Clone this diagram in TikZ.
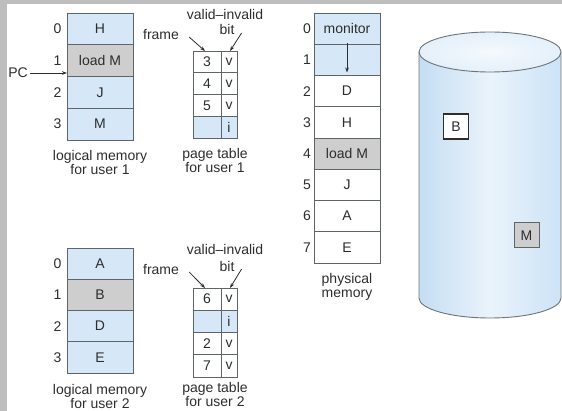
\documentclass[tikz,border=0pt]{standalone}
\usepackage{fontspec}
\setmainfont{Liberation Sans}
\usetikzlibrary{arrows.meta}
\definecolor{memblue}{RGB}{214,232,247}
\definecolor{memgray}{RGB}{206,206,206}
\definecolor{cellline}{RGB}{95,100,105}
\definecolor{txt}{RGB}{45,45,45}
\definecolor{band}{RGB}{190,190,190}
\definecolor{cylL}{RGB}{196,222,243}
\definecolor{cylM}{RGB}{234,243,251}
\definecolor{cylR}{RGB}{204,227,246}
\definecolor{cyltop}{RGB}{228,240,250}
\definecolor{cylline}{RGB}{110,115,120}
\begin{document}
\begin{tikzpicture}[x=1pt,y=-1pt, font=\fontsize{14}{14}\selectfont, text=txt,
  cell/.style={draw=cellline, line width=0.9pt, inner sep=0pt, outer sep=0pt, anchor=north west},
  lrow/.style={cell, minimum width=66pt, minimum height=31.75pt},
  prow/.style={cell, minimum width=66pt, minimum height=31.25pt},
  fcol/.style={cell, minimum width=28pt},
  vcol/.style={cell, minimum width=16pt},
  num/.style={inner sep=0pt},
  lbl/.style={inner sep=0pt, align=center},
  arr/.style={draw=txt, line width=0.8pt, -{Stealth[length=5pt,width=3.6pt]}},
  diskbox/.style={inner sep=0pt, minimum width=25pt, minimum height=25pt}]
\useasboundingbox (0,0) rectangle (562,411);
% grey frame bands
\fill[band] (0,0) rectangle (562,4);
\fill[band] (0,0) rectangle (7,411);

% ---------- logical memory user 1
\node[lrow, fill=memblue] (la0) at (67,13) {H};
\node[lrow, fill=memgray] (la1) at (67,44.75) {load M};
\node[lrow, fill=memblue] (la2) at (67,76.5) {J};
\node[lrow, fill=memblue] (la3) at (67,108.25) {M};
\foreach \i in {0,1,2,3} \node[num] (lan\i) at ([xshift=-9.5pt]la\i.west) {\i};
\node[lbl] (lalbl) at (100,162) {logical memory\\for user 1};
\node[num] (pc) at (18,73) {PC};
\draw[arr] (pc.east) ++(2,0) -- (pc.east -| la1.west);

% ---------- page table user 1
\foreach \r/\f/\v in {0/3/v,1/4/v,2/5/v,3//i}{
  \ifnum\r=3 \def\cf{memblue}\else\def\cf{white}\fi
  \node[fcol, minimum height=21.75pt, fill=\cf] (pa\r) at (193,51+21.75*\r) {\f};
  \node[vcol, minimum height=21.75pt, fill=\cf] (pv\r) at (221,51+21.75*\r) {\v};
}
\node[lbl] (palbl) at (215,160) {page table\\for user 1};
\node[num] (fra) at (161,35) {frame};
\node[num] (vla) at (225,15) {valid–invalid};
\node[num] (bta) at (227,30) {bit};
\draw[arr] ([shift={(10,2)}]fra.east) -- ([xshift=-2pt]pa0.north);
\draw[arr] ([shift={(7,3)}]bta.east) -- ([xshift=1pt]pv0.north);

% ---------- logical memory user 2
\node[lrow, fill=memblue, minimum height=31.25pt] (lb0) at (67,248) {A};
\node[lrow, fill=memgray, minimum height=31.25pt] (lb1) at (67,279.25) {B};
\node[lrow, fill=memblue, minimum height=31.25pt] (lb2) at (67,310.5) {D};
\node[lrow, fill=memblue, minimum height=31.25pt] (lb3) at (67,341.75) {E};
\foreach \i in {0,1,2,3} \node[num] (lbn\i) at ([xshift=-9.5pt]lb\i.west) {\i};
\node[lbl] (lblbl) at (100,396) {logical memory\\for user 2};

% ---------- page table user 2
\foreach \r/\f/\v in {0/6/v,1//i,2/2/v,3/7/v}{
  \ifnum\r=1 \def\cf{memblue}\else\def\cf{white}\fi
  \node[fcol, minimum height=22.25pt, fill=\cf] (pb\r) at (193,288+22.25*\r) {\f};
  \node[vcol, minimum height=22.25pt, fill=\cf] (pw\r) at (221,288+22.25*\r) {\v};
}
\node[lbl] (pblbl) at (215,394) {page table\\for user 2};
\node[num] (frb) at (161,270) {frame};
\node[num] (vlb) at (225,249) {valid–invalid};
\node[num] (btb) at (227,266) {bit};
\draw[arr] ([shift={(10,2)}]frb.east) -- ([xshift=-2pt]pb0.north);
\draw[arr] ([shift={(7,3)}]btb.east) -- ([xshift=1pt]pw0.north);

% ---------- physical memory
\foreach \t [count=\k from 0] in {monitor,,D,H,load M,J,A,E}{
  \ifnum\k<2 \def\cf{memblue}\else\ifnum\k=4 \def\cf{memgray}\else\def\cf{white}\fi\fi
  \node[prow, fill=\cf] (pm\k) at (314,13+31.25*\k) {\t};
  \node[num] (pmn\k) at ([xshift=-7pt]pm\k.west) {\k};
}
\draw[arr] ([yshift=1pt]pm0.south) -- ([yshift=3pt]pm1.south);
\node[lbl] (pmlbl) at (347,287) {physical\\memory};

% ---------- disk
\shade[left color=cylL, right color=cylR, middle color=cylM]
  (419,52) -- (419,298) arc[start angle=180, end angle=360, x radius=71pt, y radius=20pt]
  -- (561,52) arc[start angle=0, end angle=-180, x radius=71pt, y radius=20pt] -- cycle;
\draw[cylline, line width=0.9pt] (419,52) -- (419,298) arc[start angle=180, end angle=360, x radius=71pt, y radius=20pt] -- (561,52);
\shade[draw=cylline, line width=0.9pt, inner color=white!60!cyltop, outer color=cyltop] (490,52) ellipse[x radius=71pt, y radius=20pt];
\node[diskbox, draw=txt, line width=1.8pt, fill=white] (db) at (456,126.5) {B};
\node[diskbox, draw=cellline, line width=1pt, fill=memgray] (dm) at (526.5,235.5) {M};
\end{tikzpicture}
\end{document}
